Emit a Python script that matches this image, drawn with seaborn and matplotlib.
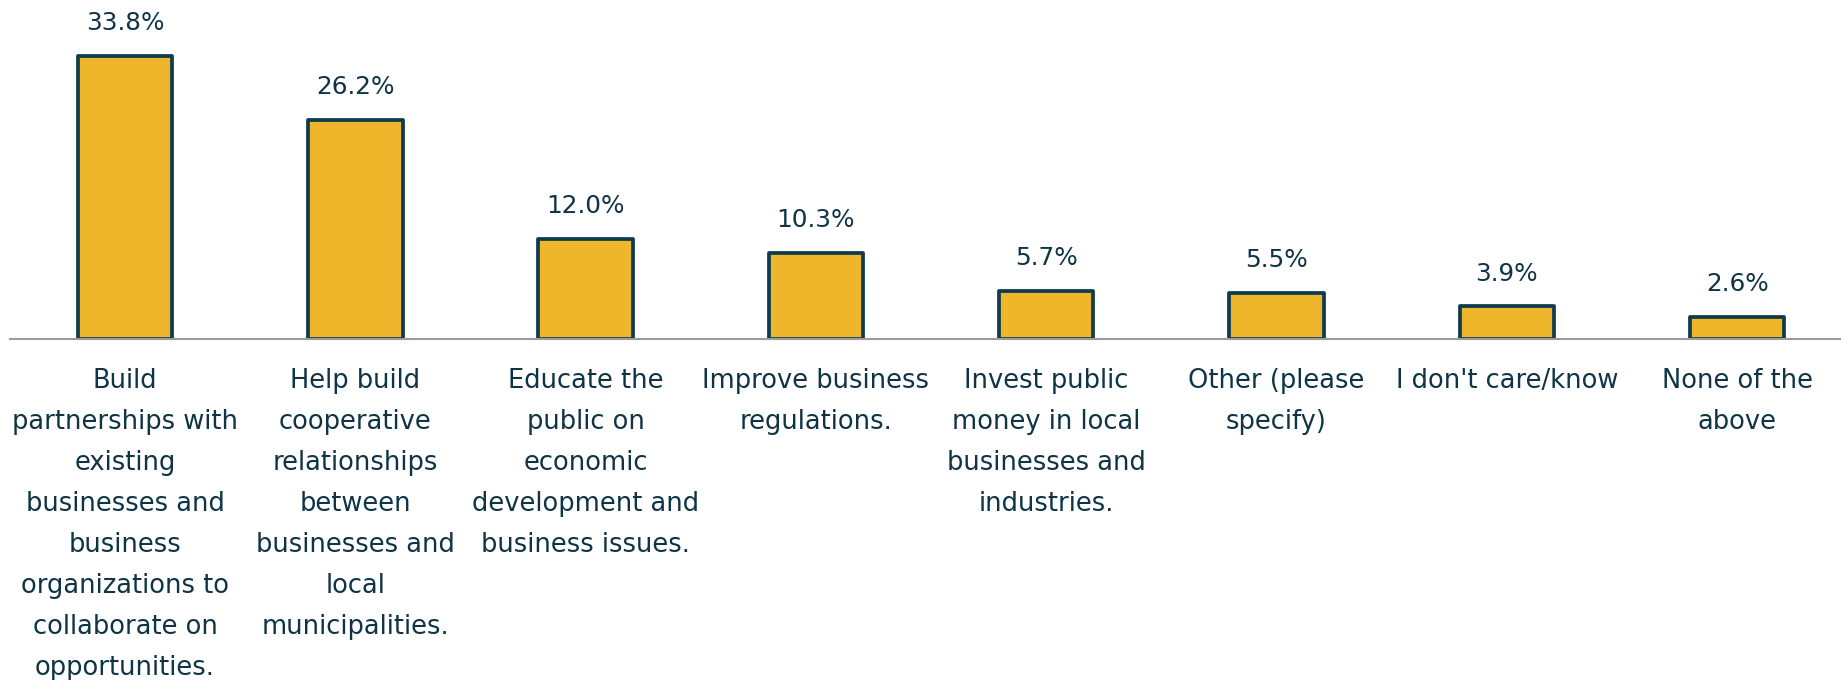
import pandas as pd
import matplotlib
matplotlib.use("Agg")
import matplotlib.pyplot as plt
import seaborn as sns


# ---------------- DATA ----------------
categories = [
    "Build\npartnerships with\nexisting\nbusinesses and\nbusiness\norganizations to\ncollaborate on\nopportunities.",
    "Help build\ncooperative\nrelationships\nbetween\nbusinesses and\nlocal\nmunicipalities.",
    "Educate the\npublic on\neconomic\ndevelopment and\nbusiness issues.",
    "Improve business\nregulations.",
    "Invest public\nmoney in local\nbusinesses and\nindustries.",
    "Other (please\nspecify)",
    "I don't care/know",
    "None of the\nabove",
]
values = [33.8, 26.2, 12.0, 10.3, 5.7, 5.5, 3.9, 2.6]

BAR_COLOR = "#EEB62A"
EDGE_COLOR = "#0F3B4E"
TEXT_COLOR = "#0E3446"


# ---------------- PLOT ----------------
df = pd.DataFrame({"option": categories, "pct": values})

sns.set_style("white")
plt.rcParams["font.family"] = ["DejaVu Sans"]

fig = plt.figure(figsize=(18.41, 6.80), dpi=100)
ax = fig.add_axes([10 / 1841, 1 - 339 / 680, 1831 / 1841, 339 / 680])

sns.barplot(
    data=df, x="option", y="pct", ax=ax,
    color=BAR_COLOR, edgecolor=EDGE_COLOR, linewidth=2.7,
    width=0.41, saturation=1,
)

for p, v in zip(ax.patches, values):
    p.set_joinstyle("round")
    ax.annotate(f"{v:.1f}%", (p.get_x() + p.get_width() / 2, v),
                xytext=(0, 15), textcoords="offset points",
                ha="center", va="bottom", fontsize=17.8, color=TEXT_COLOR)

ax.set_xlim(-0.4994, 7.451)
ax.set_ylim(0, 40.5)
ax.set_xlabel("")
ax.set_ylabel("")
ax.set_yticks([])
ax.tick_params(axis="x", length=0, pad=21, labelsize=18.5, labelcolor=TEXT_COLOR)
for lbl in ax.get_xticklabels():
    lbl.set_linespacing(1.75)

sns.despine(ax=ax, left=True, right=True, top=True)
ax.spines["bottom"].set_color("#9a9a9a")
ax.spines["bottom"].set_linewidth(1.5)

fig.savefig("out.png", dpi=100)
